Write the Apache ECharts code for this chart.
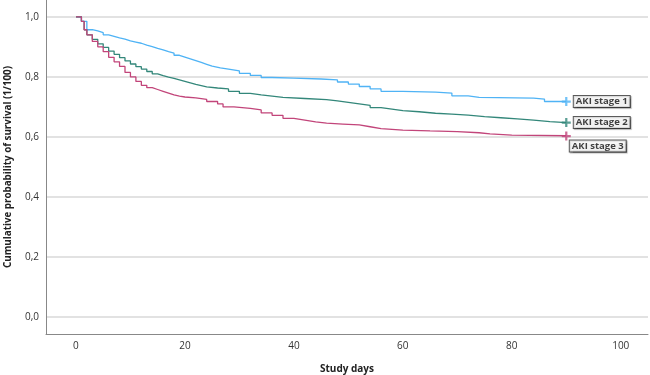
<!DOCTYPE html>
<html>
<head>
<meta charset="utf-8">
<script src="https://cdn.jsdelivr.net/npm/echarts@6/dist/echarts.min.js"></script>
<style>
  html, body { margin: 0; padding: 0; background: #fff; }
  #chart { width: 650px; height: 375px; }
</style>
</head>
<body>
<div id="chart"></div>
<script>
// Kaplan-Meier curves (day, survival)
const stage1Days = [0, 1, 2, 3, 4, 5, 6, 7, 8, 9, 10, 11, 12, 13, 14, 15, 16, 17, 18, 19, 20, 21, 22, 23, 24, 25, 26.5, 28, 30, 32, 34, 36, 40, 45, 48, 50, 52, 54, 56, 60, 66, 69, 72, 74, 84, 86, 90]
const stage1Surv = [1, 0.985, 0.957, 0.953, 0.947, 0.94, 0.935, 0.93, 0.926, 0.92, 0.916, 0.912, 0.906, 0.901, 0.895, 0.89, 0.884, 0.879, 0.872, 0.866, 0.86, 0.854, 0.848, 0.842, 0.836, 0.83, 0.826, 0.82, 0.812, 0.805, 0.798, 0.796, 0.793, 0.79, 0.783, 0.776, 0.768, 0.76, 0.752, 0.749, 0.746, 0.737, 0.732, 0.729, 0.726, 0.718, 0.718]

const stage2Days = [0, 1, 1.5, 2, 3, 4, 5, 6, 7, 8, 9, 10, 11, 12, 13, 14, 15, 16, 17, 18, 19, 20, 21, 22, 23, 24, 26, 28, 30, 32, 34, 36, 38, 42, 46, 48, 50, 52, 54, 56, 58, 60, 63, 66, 69, 72, 75, 78, 81, 84, 87, 90]
const stage2Surv = [1, 0.985, 0.957, 0.94, 0.925, 0.91, 0.898, 0.886, 0.875, 0.864, 0.853, 0.843, 0.834, 0.826, 0.818, 0.81, 0.804, 0.799, 0.795, 0.79, 0.785, 0.78, 0.775, 0.771, 0.767, 0.763, 0.76, 0.752, 0.745, 0.74, 0.736, 0.732, 0.728, 0.724, 0.72, 0.715, 0.71, 0.705, 0.698, 0.693, 0.688, 0.684, 0.679, 0.676, 0.673, 0.668, 0.664, 0.66, 0.656, 0.651, 0.648, 0.648]

const stage3Days = [0, 1, 1.5, 2, 3, 4, 5, 6, 7, 8, 9, 10, 11, 12, 13, 14, 15, 16, 17, 18, 19, 20, 22, 24, 26, 27, 29, 32, 34, 36, 38, 40, 42, 44, 46, 49, 52, 54, 56, 60, 65, 70, 74, 76, 80, 90]
const stage3Surv = [1, 0.985, 0.957, 0.94, 0.918, 0.9, 0.884, 0.865, 0.85, 0.835, 0.815, 0.8, 0.785, 0.772, 0.764, 0.758, 0.752, 0.746, 0.74, 0.736, 0.733, 0.73, 0.725, 0.718, 0.71, 0.7, 0.695, 0.69, 0.68, 0.672, 0.662, 0.656, 0.65, 0.646, 0.643, 0.64, 0.634, 0.628, 0.623, 0.62, 0.618, 0.614, 0.61, 0.606, 0.604, 0.603]

const stageNames = ['AKI stage 1', 'AKI stage 2', 'AKI stage 3']
const xTicks = [0, 20, 40, 60, 80, 100]
const yTicks = [0, 0.2, 0.4, 0.6, 0.8, 1.0]

const colors = ['#4fb3f5', '#33877a', '#c2457a']
const font = '"Open Sans", "Liberation Sans", sans-serif'
const plus = 'path://M-1,-4H1V-1H4V1H1V4H-1V1H-4V-1H-1Z'

const curves = [
  [stage1Days, stage1Surv],
  [stage2Days, stage2Surv],
  [stage3Days, stage3Surv]
]

const series = []
curves.forEach(([days, surv], i) => {
  series.push({
    name: stageNames[i],
    type: 'line',
    step: 'end',
    symbol: 'none',
    lineStyle: { color: colors[i], width: 1.3 },
    data: days.map((d, k) => [d, surv[k]])
  })
  const last = days.length - 1
  series.push({
    type: 'scatter',
    symbol: plus,
    symbolSize: 9,
    itemStyle: { color: colors[i] },
    label: {
      show: true,
      formatter: stageNames[i],
      position: i === 2 ? [8, 9] : 'right',
      distance: 3,
      color: '#111',
      fontFamily: font,
      fontSize: 9.5,
      fontWeight: 'bold',
      backgroundColor: '#fff',
      borderColor: '#333',
      borderWidth: 1,
      padding: [1, 2, 0, 2],
      shadowColor: 'rgba(0,0,0,0.35)',
      shadowOffsetX: 1,
      shadowOffsetY: 1,
      shadowBlur: 1
    },
    data: [[days[last], surv[last]]]
  })
})

const chart = echarts.init(document.getElementById('chart'))
chart.setOption({
  animation: false,
  grid: { left: 46, right: 2, top: 0, bottom: 41, outerBoundsMode: 'none' },
  xAxis: {
    type: 'value',
    min: -5.5,
    max: 105,
    name: 'Study days',
    nameLocation: 'middle',
    nameGap: 30,
    nameTextStyle: { fontFamily: font, fontSize: 10, fontWeight: 'bold', color: '#222' },
    axisLine: { show: true, onZero: false, lineStyle: { color: '#888', width: 1 } },
    axisTick: { show: false, customValues: xTicks },
    splitLine: { show: false },
    axisLabel: {
      customValues: xTicks,
      margin: 7,
      fontFamily: font,
      fontSize: 10,
      color: '#333'
    }
  },
  yAxis: {
    type: 'value',
    min: -0.056,
    max: 1.056,
    name: 'Cumulative probability of survival (1/100)',
    nameLocation: 'middle',
    nameGap: 33,
    nameTextStyle: { fontFamily: font, fontSize: 9.8, fontWeight: 'bold', color: '#222' },
    axisLine: { show: true, onZero: false, lineStyle: { color: '#888', width: 1 } },
    axisTick: { show: false, customValues: yTicks },
    splitLine: { show: true, lineStyle: { color: '#d9d9d9', width: 1.5 } },
    axisLabel: {
      customValues: yTicks,
      margin: 7,
      fontFamily: font,
      fontSize: 10,
      color: '#333',
      formatter: v => v.toFixed(1).replace('.', ',')
    }
  },
  series: series
})
</script>
</body>
</html>
